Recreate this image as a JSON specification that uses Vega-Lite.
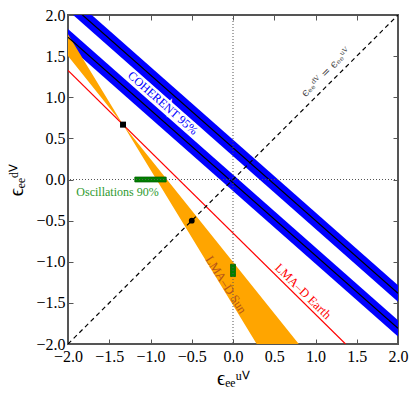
{
  "$schema": "https://vega.github.io/schema/vega-lite/v6.json",
  "width": 330,
  "height": 329,
  "autosize": "none",
  "padding": {"left": 68, "top": 15, "right": 17, "bottom": 51},
  "background": "white",
  "config": {
    "view": {"stroke": "#555555", "strokeWidth": 2},
    "axis": {
      "grid": false,
      "domain": false,
      "tickColor": "#555555",
      "tickSize": -5,
      "tickWidth": 1,
      "labelFont": "Liberation Serif",
      "labelFontSize": 16,
      "labelColor": "black",
      "labelOverlap": false,
      "labelFlush": false,
      "titleFont": "Liberation Serif",
      "titleFontSize": 20,
      "titleFontWeight": "normal",
      "titleColor": "black",
      "values": [-2, -1.5, -1, -0.5, 0, 0.5, 1, 1.5, 2],
      "format": ".1f",
      "zindex": 1
    }
  },
  "datasets": {
    "bands": [
      {"band": "upper", "x": -2, "lo": 2.055, "hi": 2.255, "mid": 2.155},
      {"band": "upper", "x": 2, "lo": -1.485, "hi": -1.285, "mid": -1.385},
      {"band": "lower", "x": -2, "lo": 1.63, "hi": 1.83, "mid": 1.73},
      {"band": "lower", "x": 2, "lo": -1.91, "hi": -1.71, "mid": -1.81}
    ],
    "sun": [
      {"x": -2, "y1": 1.765, "y2": 1.502},
      {"x": -1.333, "y1": 0.667, "y2": 0.667},
      {"x": 0.8, "y1": -2.844, "y2": -2.003}
    ],
    "earth": [
      {"x": -2, "y": 1.325},
      {"x": 1.364, "y": -2}
    ],
    "diag": [
      {"x": -2, "y": -2},
      {"x": 2, "y": 2}
    ],
    "osc": [
      {"x1": -1.19, "x2": -0.81, "y1": -0.03, "y2": 0.03},
      {"x1": -0.03, "x2": 0.03, "y1": -1.18, "y2": -1.03}
    ],
    "zero": [{"v": 0}],
    "square": [{"x": -1.333, "y": 0.667}],
    "dot": [{"x": -0.5, "y": -0.5}],
    "labels": [
      {"name": "coh", "x": -0.85, "y": 0.93, "text": "COHERENT 95%"},
      {"name": "osc", "x": -1.4, "y": -0.15, "text": "Oscillations 90%"},
      {"name": "sun", "x": -0.085, "y": -1.28, "text": "LMA–D  Sun"},
      {"name": "earth", "x": 0.85, "y": -1.36, "text": "LMA–D  Earth"},
      {"name": "diag", "x": 1.13, "y": 1.3, "text": "ϵₑₑᵈⱽ = ϵₑₑᵘⱽ"}
    ]
  },
  "resolve": {"axis": {"x": "independent", "y": "independent"}},
  "layer": [
    {
      "data": {"name": "bands"},
      "mark": {"type": "area", "clip": true, "color": "#0000ff", "opacity": 1},
      "encoding": {
        "x": {"field": "x", "type": "quantitative", "scale": {"domain": [-2, 2], "nice": false, "zero": false},
              "axis": {"orient": "bottom", "title": "ϵₑₑᵘⱽ", "labelPadding": 9, "titlePadding": 4, "labelFont": "Liberation Serif", "labelFontSize": 16}},
        "y": {"field": "lo", "type": "quantitative", "scale": {"domain": [-2, 2], "nice": false, "zero": false},
              "axis": {"orient": "left", "title": "ϵₑₑᵈⱽ", "labelPadding": 8, "titlePadding": 9, "labelFont": "Liberation Serif", "labelFontSize": 16}},
        "y2": {"field": "hi"},
        "detail": {"field": "band"}
      }
    },
    {
      "data": {"name": "sun"},
      "mark": {"type": "area", "clip": true, "color": "#ffa500", "opacity": 1},
      "encoding": {
        "x": {"field": "x", "type": "quantitative", "axis": null},
        "y": {"field": "y1", "type": "quantitative", "axis": null},
        "y2": {"field": "y2"}
      }
    },
    {
      "data": {"name": "bands"},
      "mark": {"type": "line", "clip": true, "color": "black", "strokeWidth": 1.2},
      "encoding": {
        "x": {"field": "x", "type": "quantitative", "axis": null},
        "y": {"field": "mid", "type": "quantitative", "axis": null},
        "detail": {"field": "band"}
      }
    },
    {
      "data": {"name": "earth"},
      "mark": {"type": "line", "clip": true, "color": "#ff0000", "strokeWidth": 1.2},
      "encoding": {
        "x": {"field": "x", "type": "quantitative", "axis": null},
        "y": {"field": "y", "type": "quantitative", "axis": null}
      }
    },
    {
      "data": {"name": "osc"},
      "mark": {"type": "rect", "color": "#008000", "stroke": "#006400", "strokeWidth": 0.8},
      "encoding": {
        "x": {"field": "x1", "type": "quantitative", "axis": null},
        "x2": {"field": "x2"},
        "y": {"field": "y1", "type": "quantitative", "axis": null},
        "y2": {"field": "y2"}
      }
    },
    {
      "data": {"name": "zero"},
      "mark": {"type": "rule", "color": "#555555", "strokeWidth": 1, "strokeDash": [1, 2]},
      "encoding": {
        "x": {"field": "v", "type": "quantitative", "axis": {"orient": "top", "labels": false, "title": null, "domain": false, "ticks": true}}
      }
    },
    {
      "data": {"name": "zero"},
      "mark": {"type": "rule", "color": "#555555", "strokeWidth": 1, "strokeDash": [1, 2]},
      "encoding": {
        "y": {"field": "v", "type": "quantitative", "axis": {"orient": "right", "labels": false, "title": null, "domain": false, "ticks": true}}
      }
    },
    {
      "data": {"name": "diag"},
      "mark": {"type": "line", "clip": true, "color": "black", "strokeWidth": 1.2, "strokeDash": [4.5, 3.5]},
      "encoding": {
        "x": {"field": "x", "type": "quantitative", "axis": null},
        "y": {"field": "y", "type": "quantitative", "axis": null}
      }
    },
    {
      "data": {"name": "square"},
      "mark": {"type": "point", "shape": "square", "filled": true, "color": "black", "size": 36, "opacity": 1},
      "encoding": {
        "x": {"field": "x", "type": "quantitative", "axis": null},
        "y": {"field": "y", "type": "quantitative", "axis": null}
      }
    },
    {
      "data": {"name": "dot"},
      "mark": {"type": "point", "shape": "circle", "filled": true, "color": "black", "size": 34, "opacity": 1},
      "encoding": {
        "x": {"field": "x", "type": "quantitative", "axis": null},
        "y": {"field": "y", "type": "quantitative", "axis": null}
      }
    },
    {
      "data": {"name": "labels"},
      "transform": [{"filter": "datum.name === 'coh'"}],
      "mark": {"type": "text", "font": "Liberation Serif", "fontSize": 12, "angle": 41.5, "color": "white", "stroke": "white", "strokeWidth": 4, "align": "center", "baseline": "middle"},
      "encoding": {
        "x": {"field": "x", "type": "quantitative", "axis": null},
        "y": {"field": "y", "type": "quantitative", "axis": null},
        "text": {"field": "text"}
      }
    },
    {
      "data": {"name": "labels"},
      "transform": [{"filter": "datum.name === 'coh'"}],
      "mark": {"type": "text", "font": "Liberation Serif", "fontSize": 12, "angle": 41.5, "color": "#0000ff", "align": "center", "baseline": "middle"},
      "encoding": {
        "x": {"field": "x", "type": "quantitative", "axis": null},
        "y": {"field": "y", "type": "quantitative", "axis": null},
        "text": {"field": "text"}
      }
    },
    {
      "data": {"name": "labels"},
      "transform": [{"filter": "datum.name === 'osc'"}],
      "mark": {"type": "text", "font": "Liberation Serif", "fontSize": 12, "angle": 0, "color": "#2e9a2e", "align": "center", "baseline": "middle"},
      "encoding": {
        "x": {"field": "x", "type": "quantitative", "axis": null},
        "y": {"field": "y", "type": "quantitative", "axis": null},
        "text": {"field": "text"}
      }
    },
    {
      "data": {"name": "labels"},
      "transform": [{"filter": "datum.name === 'sun'"}],
      "mark": {"type": "text", "font": "Liberation Serif", "fontSize": 12.5, "angle": 57.6, "color": "#b5541a", "align": "center", "baseline": "middle"},
      "encoding": {
        "x": {"field": "x", "type": "quantitative", "axis": null},
        "y": {"field": "y", "type": "quantitative", "axis": null},
        "text": {"field": "text"}
      }
    },
    {
      "data": {"name": "labels"},
      "transform": [{"filter": "datum.name === 'earth'"}],
      "mark": {"type": "text", "font": "Liberation Serif", "fontSize": 12.5, "angle": 44.6, "color": "#ff0000", "align": "center", "baseline": "middle"},
      "encoding": {
        "x": {"field": "x", "type": "quantitative", "axis": null},
        "y": {"field": "y", "type": "quantitative", "axis": null},
        "text": {"field": "text"}
      }
    },
    {
      "data": {"name": "labels"},
      "transform": [{"filter": "datum.name === 'diag'"}],
      "mark": {"type": "text", "font": "DejaVu Serif", "fontSize": 11, "angle": -45, "color": "#444444", "align": "center", "baseline": "middle"},
      "encoding": {
        "x": {"field": "x", "type": "quantitative", "axis": null},
        "y": {"field": "y", "type": "quantitative", "axis": null},
        "text": {"field": "text"}
      }
    }
  ]
}
